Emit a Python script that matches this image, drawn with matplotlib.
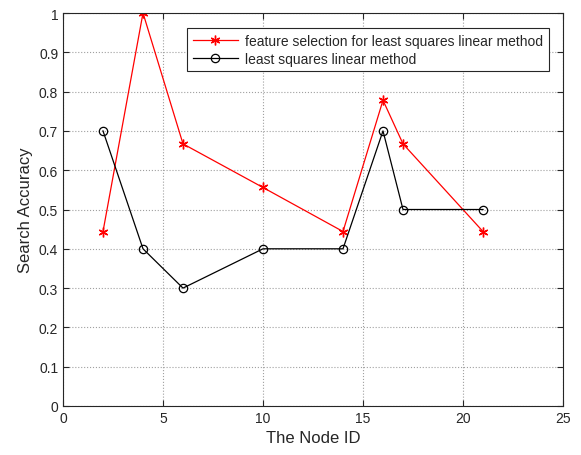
import matplotlib
matplotlib.use("Agg")
import matplotlib.pyplot as plt

plt.rcParams["font.family"] = ["Liberation Sans", "DejaVu Sans"]

# node ids and accuracies for both methods
node_id = [2, 4, 6, 10, 14, 16, 17, 21]
acc_fs = [0.444, 1.0, 0.667, 0.556, 0.444, 0.778, 0.667, 0.444]
acc_ls = [0.7, 0.4, 0.3, 0.4, 0.4, 0.7, 0.5, 0.5]

txt = "#262626"

fig = plt.figure(figsize=(5.81, 4.56), dpi=100)
ax = fig.add_axes([63/581, 49/456, 500/581, 393/456])

ax.plot(node_id, acc_fs, color="red", lw=0.9, marker=(6, 2, 0), ms=7, mew=1.0,
        label="feature selection for least squares linear method")
ax.plot(node_id, acc_ls, color="black", lw=0.9, marker="o", ms=6,
        mfc="none", mew=0.9, label="least squares linear method")

ax.set_xlim(0, 25)
ax.set_ylim(0, 1)
ax.set_xticks(range(0, 26, 5))
ax.set_yticks([i / 10 for i in range(11)])
ax.set_yticklabels(["0", "0.1", "0.2", "0.3", "0.4", "0.5", "0.6", "0.7",
                    "0.8", "0.9", "1"])
ax.grid(True, ls=":", color="#a0a0a0", lw=0.8)
ax.tick_params(direction="in", labelsize=10, length=4, top=True, right=True,
               labelcolor=txt, color=txt)
for s in ax.spines.values():
    s.set_linewidth(0.8)
    s.set_color(txt)

ax.set_xlabel("The Node ID", fontsize=12, color=txt)
ax.set_ylabel("Search Accuracy", fontsize=12, color=txt)

leg = ax.legend(loc="upper left", bbox_to_anchor=(124/500, 1 - 15/393),
                fontsize=10, fancybox=False, framealpha=1, borderpad=0.4,
                handlelength=3.3, handletextpad=0.5, labelspacing=0.3,
                borderaxespad=0)
leg.get_frame().set_edgecolor(txt)
leg.get_frame().set_linewidth(0.8)
for t in leg.get_texts():
    t.set_color(txt)

fig.savefig("out.png", dpi=100)
